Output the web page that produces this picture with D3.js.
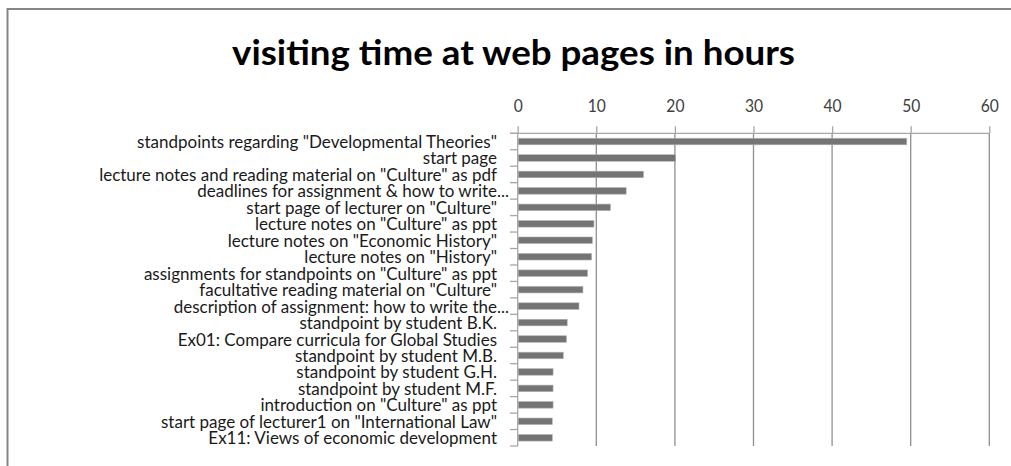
<!DOCTYPE html>
<html>
<head>
<meta charset="utf-8">
<script src="https://cdn.jsdelivr.net/npm/d3@7"></script>
<style>
  html, body { margin: 0; padding: 0; background: #fff; }
  svg { display: block; }
  text { font-family: Lato, "Open Sans", sans-serif; }
</style>
</head>
<body>
<svg id="chart" width="1011" height="466"></svg>
<script>
// Pages and hours spent on each
const pages = [
  'standpoints regarding "Developmental Theories"',
  'start page',
  'lecture notes and reading material on "Culture" as pdf',
  'deadlines for assignment & how to write...',
  'start page of lecturer on "Culture"',
  'lecture notes on "Culture" as ppt',
  'lecture notes on "Economic History"',
  'lecture notes on "History"',
  'assignments for standpoints on "Culture" as ppt',
  'facultative reading material on "Culture"',
  'description of assignment: how to write the...',
  'standpoint by student B.K.',
  'Ex01: Compare curricula for Global Studies',
  'standpoint by student M.B.',
  'standpoint by student G.H.',
  'standpoint by student M.F.',
  'introduction on "Culture" as ppt',
  'start page of lecturer1 on "International Law"',
  'Ex11: Views of economic development'
];
const hours = [49.5, 20.1, 16.0, 13.8, 11.8, 9.7, 9.5, 9.4, 8.9, 8.3, 7.8, 6.3, 6.2, 5.8, 4.5, 4.5, 4.5, 4.4, 4.4];
const hourTicks = [0, 10, 20, 30, 40, 50, 60];
const titleText = 'visiting time at web pages in hours';

const svg = d3.select('#chart');

// frame: top and left edges of the chart area
svg.append('line').attr('x1', 7.5).attr('x2', 1011).attr('y1', 9).attr('y2', 9)
  .attr('stroke', '#858585').attr('stroke-width', 2);
svg.append('line').attr('x1', 7.5).attr('x2', 7.5).attr('y1', 8).attr('y2', 466)
  .attr('stroke', '#858585').attr('stroke-width', 2);

// title
svg.append('text')
  .attr('x', 513.5).attr('y', 65)
  .attr('text-anchor', 'middle')
  .attr('font-size', 35).attr('font-weight', 700)
  .attr('fill', '#000')
  .attr('textLength', 563).attr('lengthAdjust', 'spacingAndGlyphs')
  .text(titleText);

const x = d3.scaleLinear().domain([0, 60]).range([517.7, 989.3]);
const y = d3.scaleBand().domain(pages).range([133.3, 446]).paddingInner(0.6).paddingOuter(0.3);
const edges = d3.scaleLinear().domain([0, pages.length]).range([133.3, 446]);

// vertical gridlines
svg.append('g').selectAll('line')
  .data(hourTicks.filter(d => d > 0))
  .join('line')
  .attr('x1', d => x(d)).attr('x2', d => x(d))
  .attr('y1', 133.3).attr('y2', 446)
  .attr('stroke', '#8f8f8f').attr('stroke-width', 1.3);

// top value axis
const axisTop = d3.axisTop(x).tickValues(hourTicks).tickSize(7).tickPadding(14).tickSizeOuter(0);
const gx = svg.append('g').attr('transform', 'translate(0,133.3)').call(axisTop);
gx.select('.domain').remove();
gx.append('line').attr('x1', 510).attr('x2', x(60)).attr('y1', 0).attr('y2', 0)
  .attr('stroke', '#a6a6a6').attr('stroke-width', 1.3);
gx.selectAll('.tick line').attr('stroke', '#a6a6a6').attr('stroke-width', 1.3);
gx.selectAll('.tick text')
  .attr('font-family', 'Lato, "Open Sans", sans-serif')
  .attr('font-size', 17).attr('fill', '#404040')
  .attr('transform', 'scale(0.92,1)');

// category axis line and boundary ticks
svg.append('line').attr('x1', x(0)).attr('x2', x(0)).attr('y1', 133.3).attr('y2', 446)
  .attr('stroke', '#a6a6a6').attr('stroke-width', 1.3);
svg.append('g').selectAll('line')
  .data(d3.range(pages.length + 1))
  .join('line')
  .attr('x1', 510).attr('x2', x(0))
  .attr('y1', d => edges(d)).attr('y2', d => edges(d))
  .attr('stroke', '#a6a6a6').attr('stroke-width', 1.3);

// bars
svg.append('g').selectAll('rect')
  .data(pages.map((p, i) => ({ page: p, value: hours[i] })))
  .join('rect')
  .attr('x', x(0) + 0.5)
  .attr('y', d => y(d.page))
  .attr('width', d => x(d.value) - x(0) - 0.5)
  .attr('height', y.bandwidth())
  .attr('fill', '#747474')
  .attr('stroke', '#b4b4b4').attr('stroke-width', 0.6);

// category labels, narrowed horizontally to a Calibri-like width
const labelRight = 497;
const labelSize = 17;
const probe = svg.append('text').attr('font-size', labelSize).text(pages[0]);
const sx = 360 / probe.node().getComputedTextLength();
probe.text('...');
const dotsW = probe.node().getComputedTextLength() * sx;
probe.remove();

svg.append('g').selectAll('g')
  .data(pages)
  .join('g')
  .attr('transform', d => {
    const rx = labelRight + (d.endsWith('...') ? dotsW : 0);
    return `translate(${rx},${y(d) + y.bandwidth() / 2 + 6.5}) scale(${sx},1)`;
  })
  .append('text')
  .attr('text-anchor', 'end')
  .attr('font-size', labelSize)
  .attr('fill', '#1a1a1a')
  .text(d => d);
</script>
</body>
</html>
